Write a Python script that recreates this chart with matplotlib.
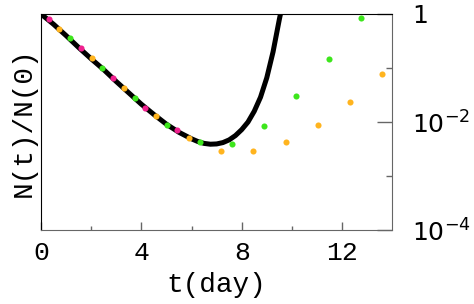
import numpy as np
import matplotlib
matplotlib.use('Agg')
import matplotlib.pyplot as plt
from matplotlib.ticker import FixedLocator, NullFormatter

# model curve, log10 N(t)/N(0)
curve_t = [0, 0.5, 1.0, 1.5, 2.0, 2.5, 3.0, 3.5, 4.0, 4.5, 5.0, 5.5, 6.0,
           6.25, 6.5, 6.75, 7.0, 7.25, 7.5, 7.75, 8.0, 8.25, 8.5, 8.75,
           9.0, 9.25, 9.5, 9.6]
curve_log = [0, -0.19, -0.40, -0.62, -0.83, -1.03, -1.25, -1.46, -1.67,
             -1.86, -2.04, -2.19, -2.31, -2.36, -2.395, -2.41, -2.405, -2.38,
             -2.33, -2.25, -2.14, -2.00, -1.80, -1.54, -1.18, -0.70, -0.10,
             0.12]

# measured points, three series
pink_t = [0.32, 1.59, 2.88, 4.16, 5.44]
pink_log = [-0.10, -0.635, -1.19, -1.735, -2.154]
orange_t = [0.73, 2.03, 3.31, 4.60, 5.88, 7.19, 8.47, 9.75, 11.03, 12.32, 13.60]
orange_log = [-0.272, -0.82, -1.376, -1.894, -2.296, -2.537, -2.537, -2.365,
              -2.056, -1.63, -1.111]
green_t = [1.16, 2.45, 3.73, 5.01, 6.32, 7.60, 8.89, 10.17, 11.46, 12.76]
green_log = [-0.45, -1.006, -1.561, -2.05, -2.37, -2.40, -2.08, -1.52,
             -0.83, -0.069]

mono = 'Liberation Mono'
fig = plt.figure(figsize=(4.74, 3.04), dpi=100)
ax = fig.add_axes([0.0865, 0.243, 0.741, 0.711])

ax.plot(curve_t, 10 ** np.array(curve_log), color='black', lw=3.6,
        solid_joinstyle='round', zorder=2)
ms = 4.4
ax.plot(pink_t, 10 ** np.array(pink_log), 'o', color='#f0208f', ms=ms, mew=0, zorder=3)
ax.plot(orange_t, 10 ** np.array(orange_log), 'o', color='#ffb41e', ms=ms, mew=0, zorder=3)
ax.plot(green_t, 10 ** np.array(green_log), 'o', color='#3de61c', ms=ms, mew=0, zorder=3)

ax.set_yscale('log')
ax.set_xlim(0, 14)
ax.set_ylim(1e-4, 1)

ax.yaxis.tick_right()
ax.yaxis.set_major_locator(FixedLocator([1e-4, 1e-2, 1]))
ax.yaxis.set_minor_locator(FixedLocator([1e-3, 1e-1]))
ax.yaxis.set_minor_formatter(NullFormatter())
ax.set_yticklabels(['$10^{-4}$', '$10^{-2}$', '$1$'], fontsize=18)

ax.xaxis.set_major_locator(FixedLocator([0, 4, 8, 12]))
ax.xaxis.set_minor_locator(FixedLocator([2, 6, 10]))
for lab in ax.get_xticklabels():
    lab.set_fontfamily(mono)
    lab.set_fontsize(19)

ax.tick_params(axis='y', which='major', direction='in', length=11, width=1,
               color='#666666', pad=14)
ax.tick_params(axis='y', which='minor', direction='in', length=4, width=1,
               color='#666666')
ax.tick_params(axis='x', which='major', direction='in', length=6, width=1,
               color='#666666', pad=8)
ax.tick_params(axis='x', which='minor', direction='in', length=3, width=1,
               color='#666666')

for side in ['left', 'top']:
    ax.spines[side].set_color('black')
for side in ['right', 'bottom']:
    ax.spines[side].set_color('#666666')

ax.set_xlabel('t(day)', fontfamily=mono, fontsize=20, labelpad=5)
ax.set_ylabel('N(t)/N(0)', fontfamily=mono, fontsize=20, labelpad=3)

fig.savefig('out.png', dpi=100)
